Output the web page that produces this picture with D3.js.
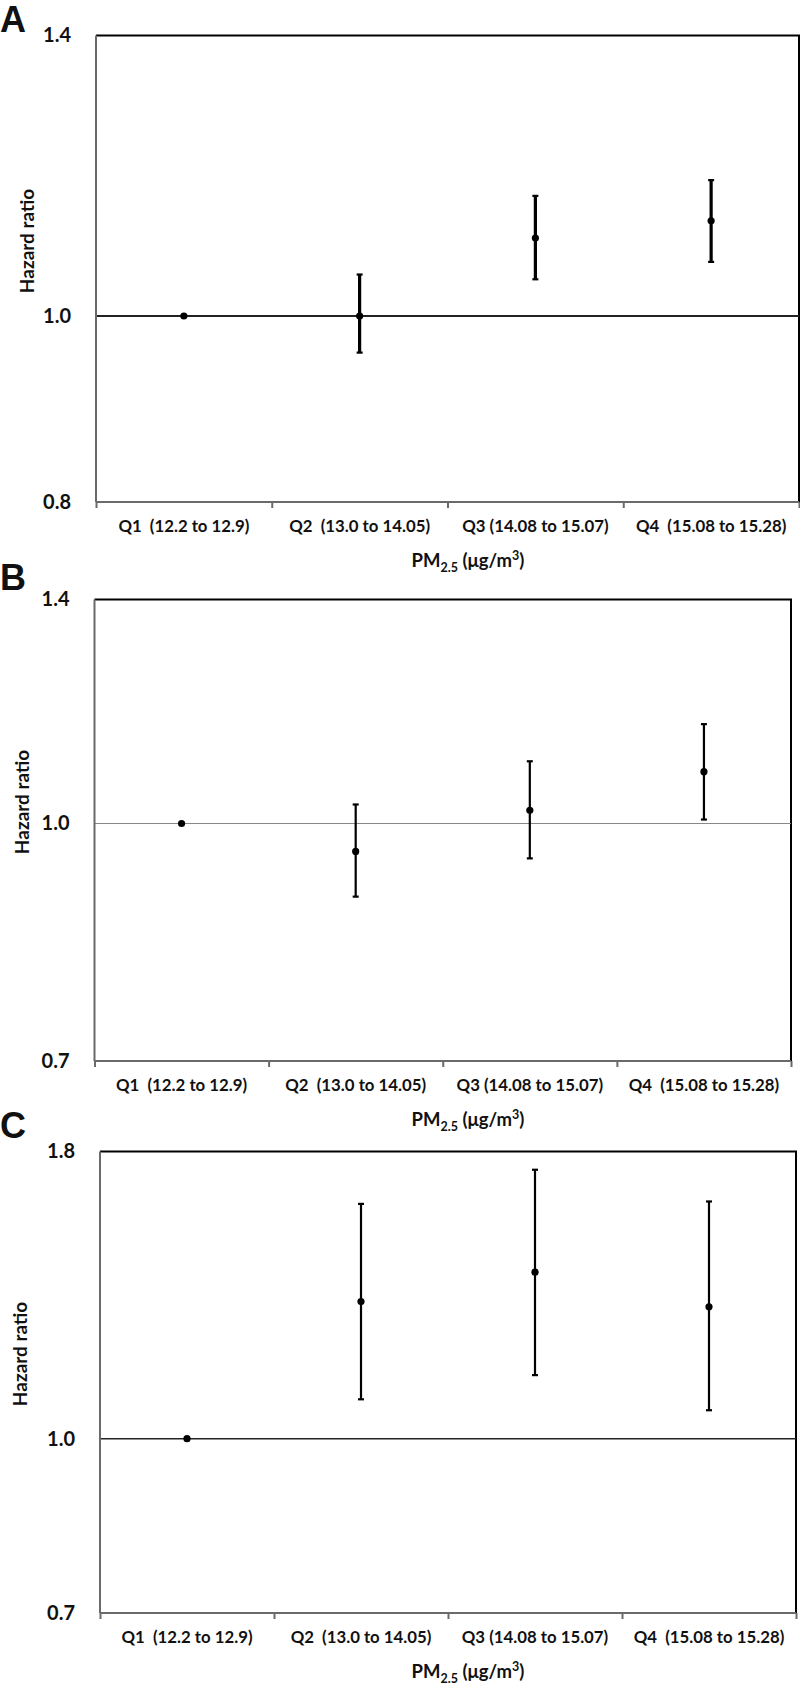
<!DOCTYPE html>
<html>
<head>
<meta charset="utf-8">
<script src="https://cdn.jsdelivr.net/npm/d3@7"></script>
<style>
  body { margin: 0; background: #fff; }
  text { font-family: Lato, "Open Sans", sans-serif; font-weight: bold; fill: #111; }
  .letter { font-family: "Liberation Sans", Arial, sans-serif; font-size: 36px; }
</style>
</head>
<body>
<script>
// categories (PM2.5 quartiles)
var categories = ["Q1  (12.2 to 12.9)", "Q2  (13.0 to 14.05)", "Q3 (14.08 to 15.07)", "Q4  (15.08 to 15.28)"];

// panel A
var hrA = [1.0, 1.0, 1.098, 1.121];
var lowA = [null, 0.957, 1.045, 1.067];
var highA = [null, 1.051, 1.155, 1.177];
var ticksA = [0.8, 1.0, 1.4];

// panel B
var hrB = [1.0, 0.959, 1.020, 1.081];
var lowB = [null, 0.896, 0.949, 1.006];
var highB = [null, 1.029, 1.098, 1.161];
var ticksB = [0.7, 1.0, 1.4];

// panel C
var hrC = [1.0, 1.324, 1.406, 1.310];
var lowC = [null, 1.084, 1.139, 1.060];
var highC = [null, 1.617, 1.734, 1.625];
var ticksC = [0.7, 1.0, 1.8];

var w = 800, h = 1688;

var svg = d3.select("body").append("svg")
    .attr("width", w)
    .attr("height", h);

//layout of each panel (pixels)
var panels = [
    { letter: "A", hr: hrA, low: lowA, high: highA, ticks: ticksA,
      left: 96, right: 799, top: 35.5, bottom: 502, letterY: 32,
      barW: 3.2, refW: 2, refC: "#222", ylabY: 241, ylabX: 27 },
    { letter: "B", hr: hrB, low: lowB, high: highB, ticks: ticksB,
      left: 94.5, right: 791, top: 599.5, bottom: 1061, letterY: 590,
      barW: 2.2, refW: 1, refC: "#888", ylabY: 802, ylabX: 22 },
    { letter: "C", hr: hrC, low: lowC, high: highC, ticks: ticksC,
      left: 100, right: 796, top: 1151.5, bottom: 1613, letterY: 1138,
      barW: 2.2, refW: 1.6, refC: "#222", ylabY: 1354, ylabX: 20 }
];

panels.forEach(function (p) {
    var g = svg.append("g");

    //scales
    var y = d3.scaleLog()
        .domain([p.ticks[0], p.ticks[p.ticks.length - 1]])
        .range([p.bottom, p.top]);
    var x = d3.scaleBand()
        .domain(categories)
        .range([p.left, p.right]);
    var xEdge = d3.scaleLinear()
        .domain([0, categories.length])
        .range([p.left, p.right]);

    //top and right frame
    g.append("path")
        .attr("d", "M" + p.left + "," + p.top + "H" + p.right + "V" + p.bottom)
        .attr("fill", "none")
        .attr("stroke", "#000")
        .attr("stroke-width", 2);

    //reference line at 1.0
    g.append("line")
        .attr("x1", p.left).attr("x2", p.right)
        .attr("y1", y(1)).attr("y2", y(1))
        .attr("stroke", p.refC)
        .attr("stroke-width", p.refW);

    //left axis line
    g.append("line")
        .attr("x1", p.left).attr("x2", p.left)
        .attr("y1", p.top).attr("y2", p.bottom)
        .attr("stroke", "#6a6a6a")
        .attr("stroke-width", 2);

    //y axis tick labels
    var yAxis = g.append("g")
        .attr("transform", "translate(" + p.left + ",0)")
        .call(d3.axisLeft(y).tickValues(p.ticks).tickSize(0).tickPadding(25)
            .tickFormat(d3.format(".1f")));
    yAxis.select(".domain").remove();
    yAxis.selectAll("text")
        .style("font-size", "20px")
        .style("font-family", "Lato, sans-serif")
        .style("font-weight", "bold")
        .attr("fill", "#111");

    //bottom axis with tick marks at band edges
    var xTicks = g.append("g")
        .attr("transform", "translate(0," + p.bottom + ")")
        .call(d3.axisBottom(xEdge).ticks(categories.length).tickSize(6).tickFormat(""));
    xTicks.select(".domain").attr("stroke", "#6a6a6a").attr("stroke-width", 2)
        .attr("d", "M" + p.left + ",0H" + p.right);
    xTicks.selectAll(".tick line").attr("stroke", "#6a6a6a").attr("stroke-width", 2);

    //category labels
    var xLab = g.append("g")
        .attr("transform", "translate(0," + p.bottom + ")")
        .call(d3.axisBottom(x).tickSize(0).tickPadding(18));
    xLab.select(".domain").remove();
    xLab.selectAll("text")
        .style("font-size", "16.8px")
        .style("font-family", "Lato, sans-serif")
        .style("font-weight", "bold")
        .style("white-space", "pre")
        .attr("fill", "#111");

    //x axis title
    var title = g.append("text")
        .attr("x", 468)
        .attr("y", p.bottom + 65)
        .attr("text-anchor", "middle")
        .style("font-size", "18.5px");
    title.append("tspan").text("PM");
    title.append("tspan").attr("dy", 5).style("font-size", "12.5px").text("2.5");
    title.append("tspan").attr("dy", -5).text(" (\u03bcg/m");
    title.append("tspan").attr("dy", -7).style("font-size", "12.5px").text("3");
    title.append("tspan").attr("dy", 7).text(")");

    //y axis title
    g.append("text")
        .attr("transform", "translate(" + (p.ylabX + 7) + "," + p.ylabY + ") rotate(-90)")
        .attr("text-anchor", "middle")
        .style("font-size", "19px")
        .text("Hazard ratio");

    //panel letter
    g.append("text")
        .attr("class", "letter")
        .attr("x", 0)
        .attr("y", p.letterY)
        .text(p.letter);

    //data
    var rows = categories.map(function (c, i) {
        return { cat: c, hr: p.hr[i], low: p.low[i], high: p.high[i] };
    });
    var withCI = rows.filter(function (d) { return d.low !== null; });

    //error bars
    g.selectAll(".bar")
        .data(withCI)
        .enter()
        .append("line")
        .attr("class", "bar")
        .attr("x1", function (d) { return x(d.cat) + x.bandwidth() / 2; })
        .attr("x2", function (d) { return x(d.cat) + x.bandwidth() / 2; })
        .attr("y1", function (d) { return y(d.low); })
        .attr("y2", function (d) { return y(d.high); })
        .attr("stroke", "#000")
        .attr("stroke-width", p.barW);

    //caps
    ["low", "high"].forEach(function (k) {
        g.selectAll(".cap-" + k)
            .data(withCI)
            .enter()
            .append("line")
            .attr("class", "cap-" + k)
            .attr("x1", function (d) { return x(d.cat) + x.bandwidth() / 2 - 3; })
            .attr("x2", function (d) { return x(d.cat) + x.bandwidth() / 2 + 3; })
            .attr("y1", function (d) { return y(d[k]); })
            .attr("y2", function (d) { return y(d[k]); })
            .attr("stroke", "#000")
            .attr("stroke-width", 2.2);
    });

    //points
    g.selectAll(".pt")
        .data(rows)
        .enter()
        .append("circle")
        .attr("class", "pt")
        .attr("cx", function (d) { return x(d.cat) + x.bandwidth() / 2; })
        .attr("cy", function (d) { return y(d.hr); })
        .attr("r", 3.6)
        .attr("fill", "#000");
});
</script>
</body>
</html>
